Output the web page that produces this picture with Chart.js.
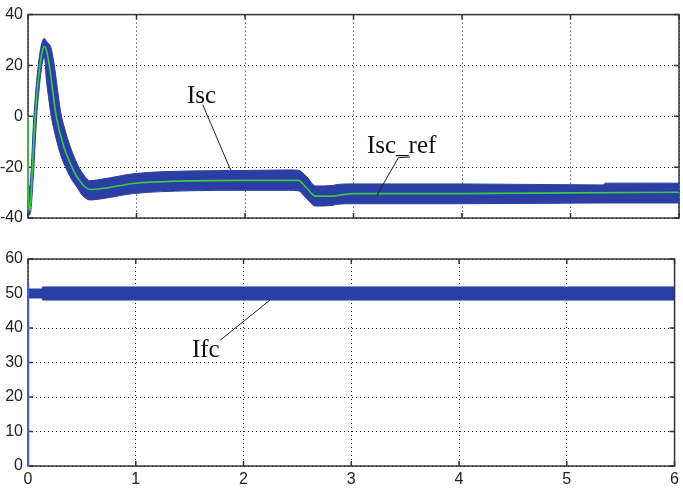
<!DOCTYPE html>
<html>
<head>
<meta charset="utf-8">
<script src="https://cdn.jsdelivr.net/npm/chart.js@4.4.1/dist/chart.umd.min.js"></script>
<style>
  html, body { margin: 0; padding: 0; background: #fff; }
  #wrap { position: relative; width: 683px; height: 490px; }
  canvas { position: absolute; left: 0; }
  #top { top: 0; }
  #bottom { top: 240px; }
</style>
</head>
<body>
<div id="wrap">
  <canvas id="top" width="683" height="240"></canvas>
  <canvas id="bottom" width="683" height="250"></canvas>
</div>
<script>
// --- data (time in s, current in A) ---

// Isc_ref (green centre line)
const iscX = [0, 0.001, 0.018, 0.035, 0.065, 0.09, 0.12, 0.152, 0.18, 0.21, 0.24, 0.26, 0.33, 0.405, 0.47, 0.57, 0.7, 0.97, 1.49, 2.0, 2.49, 2.57, 2.65, 2.81, 2.9, 3.0, 4.0, 5.0, 6.0];
const iscY = [0, -30, -37, -25, -1, 12, 23, 27.5, 24, 16, 6, 0, -12, -20, -25, -28.8, -28.3, -26.4, -25.4, -25.2, -25.2, -28.3, -31.4, -31.4, -30.8, -30.4, -30.4, -30.1, -29.9];

// Isc ripple band (upper / lower envelope)
const bandX  = [0.003, 0.02, 0.05, 0.08, 0.11, 0.135, 0.152, 0.17, 0.19, 0.21, 0.24, 0.27, 0.30, 0.35, 0.40, 0.45, 0.50, 0.57, 0.7, 0.97, 1.49, 2.0, 2.4, 2.49, 2.57, 2.65, 2.81, 2.85, 3.0, 4.0, 5.3, 5.32, 6.0];
const bandHi = [-28, -26.5, -3, 14, 25, 29.8, 30.6, 29.5, 28.6, 27.2, 20.7, 11.3, 2, -6.6, -13.2, -18.4, -22.2, -25.3, -24.6, -22.6, -21.5, -21.3, -21.1, -21.2, -23.8, -27.4, -27.2, -26.8, -26.6, -26.6, -27, -26.3, -26.3];
const bandLo = [-39, -38.5, -23, -0.4, 13.7, 21.7, 23, 14, 7.3, 1, -5.4, -10.6, -15.1, -20.4, -24.7, -27.8, -31, -32.9, -32.3, -30.4, -29.3, -29.1, -29.1, -29.3, -32.5, -35.3, -35, -34.6, -34.4, -34.4, -34.1, -34.1, -34.1];

// Ifc start-up and ripple band
const ifcStartX = [0, 0, 0.004];
const ifcStartY = [0, 53, 50];
const ifcX  = [0.003, 0.13, 0.135, 6];
const ifcHi = [51.3, 51.3, 51.9, 51.9];
const ifcLo = [48.7, 48.7, 48.1, 48.1];

// axes
const xTicks = [0, 1, 2, 3, 4, 5, 6];
const topTicks = [-40, -20, 0, 20, 40];
const bottomTicks = [0, 10, 20, 30, 40, 50, 60];

const BLUE = '#2b3ea3';
const GREEN = '#3acb45';
const pts = (xs, ys) => xs.map((x, i) => ({ x: x, y: ys[i] }));

// box + inward tick marks, MATLAB style (drawn under the traces)
const framePlugin = {
  id: 'frame',
  beforeDatasetsDraw(chart) {
    const { ctx, chartArea: a, scales } = chart;
    ctx.save();
    ctx.strokeStyle = '#333';
    ctx.lineWidth = 1.5;
    ctx.strokeRect(a.left, a.top, a.right - a.left, a.bottom - a.top);
    ctx.beginPath();
    scales.x.ticks.forEach(t => {
      const px = scales.x.getPixelForValue(t.value);
      ctx.moveTo(px, a.top); ctx.lineTo(px, a.top + 5);
      ctx.moveTo(px, a.bottom); ctx.lineTo(px, a.bottom - 5);
    });
    scales.y.ticks.forEach(t => {
      const py = scales.y.getPixelForValue(t.value);
      ctx.moveTo(a.left, py); ctx.lineTo(a.left + 5, py);
      ctx.moveTo(a.right, py); ctx.lineTo(a.right - 5, py);
    });
    ctx.stroke();
    ctx.restore();
  }
};

// text labels with leader lines, placed in data units
const notesPlugin = {
  id: 'notes',
  afterDraw(chart, args, opts) {
    const { ctx, scales } = chart;
    const X = v => scales.x.getPixelForValue(v);
    const Y = v => scales.y.getPixelForValue(v);
    ctx.save();
    (opts.items || []).forEach(n => {
      ctx.fillStyle = '#111';
      ctx.font = '25px "Liberation Serif", "DejaVu Serif", serif';
      ctx.textBaseline = 'alphabetic';
      ctx.fillText(n.text, X(n.at[0]), Y(n.at[1]));
      ctx.strokeStyle = '#222';
      ctx.lineWidth = 1;
      ctx.beginPath();
      n.line.forEach((p, i) => i ? ctx.lineTo(X(p[0]), Y(p[1])) : ctx.moveTo(X(p[0]), Y(p[1])));
      ctx.stroke();
    });
    ctx.restore();
  }
};

const tickFont = { family: '"Liberation Sans Narrow", "Liberation Sans", Arial, sans-serif', size: 16 };

function axes(yMin, yMax, yStep, showX, xHeight) {
  return {
    x: {
      type: 'linear', min: 0, max: 6,
      afterBuildTicks: s => { s.ticks = xTicks.map(v => ({ value: v })); },
      afterFit: s => { s.height = xHeight; },
      grid: { color: '#111', lineWidth: 1, drawTicks: false },
      border: { display: false, dash: [1, 3] },
      ticks: { display: showX, font: tickFont, color: '#222', padding: 4, maxRotation: 0 }
    },
    y: {
      min: yMin, max: yMax,
      ticks: { stepSize: yStep, font: tickFont, color: '#222', padding: 5 },
      afterFit: s => { s.width = 28; },
      grid: { color: '#111', lineWidth: 1, drawTicks: false },
      border: { display: false, dash: [1, 3] }
    }
  };
}

const common = {
  animation: false,
  responsive: false,
  plugins: { legend: { display: false }, tooltip: { enabled: false } },
  elements: { point: { radius: 0 }, line: { cubicInterpolationMode: 'monotone' } }
};

new Chart(document.getElementById('top'), {
  type: 'line',
  data: {
    datasets: [
      { data: pts(iscX, iscY), borderColor: GREEN, borderWidth: 1.6, fill: false, clip: 3 },
      { data: pts(bandX, bandHi), borderColor: BLUE, borderWidth: 1, fill: false, clip: 3 },
      { data: pts(bandX, bandLo), borderColor: BLUE, borderWidth: 1, backgroundColor: BLUE, fill: '-1', clip: 3 }
    ]
  },
  options: Object.assign({}, common, {
    layout: { padding: { top: 13, right: 4, bottom: 0, left: 0 } },
    scales: axes(topTicks[0], topTicks[topTicks.length - 1], 20, false, 22),
    plugins: Object.assign({}, common.plugins, {
      notes: {
        items: [
          { text: 'Isc', at: [1.465, 5.1], line: [[1.61, 4.6], [1.868, -21.2]] },
          { text: 'Isc_ref', at: [3.124, -14.3], line: [[3.521, -16.0], [3.413, -16.3], [3.214, -31.2]] }
        ]
      }
    })
  }),
  plugins: [framePlugin, notesPlugin]
});

new Chart(document.getElementById('bottom'), {
  type: 'line',
  data: {
    datasets: [
      { data: pts(ifcStartX, ifcStartY), borderColor: '#4a5cd0', borderWidth: 2, fill: false, clip: 3, cubicInterpolationMode: 'default', tension: 0 },
      { data: pts(ifcX, ifcHi), borderColor: BLUE, borderWidth: 1, fill: false, clip: 3 },
      { data: pts(ifcX, ifcLo), borderColor: BLUE, borderWidth: 1, backgroundColor: BLUE, fill: '-1', clip: 3 }
    ]
  },
  options: Object.assign({}, common, {
    layout: { padding: { top: 19, right: 4, bottom: 0, left: 0 } },
    scales: axes(bottomTicks[0], bottomTicks[bottomTicks.length - 1], 10, true, 24),
    plugins: Object.assign({}, common.plugins, {
      notes: {
        items: [
          { text: 'Ifc', at: [1.521, 31.6], line: [[1.785, 36.5], [2.246, 48.1]] }
        ]
      }
    })
  }),
  plugins: [framePlugin, notesPlugin]
});
</script>
</body>
</html>
